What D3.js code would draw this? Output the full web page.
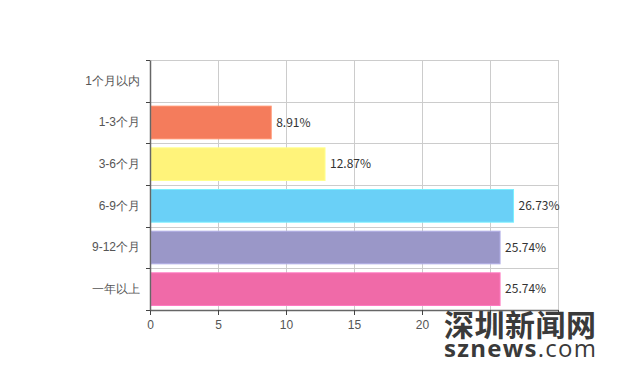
<!DOCTYPE html>
<html>
<head>
<meta charset="utf-8">
<script src="https://cdn.jsdelivr.net/npm/d3@7"></script>
<style>
  body { margin: 0; background: #fff; }
  svg { display: block; font-family: "Noto Sans CJK SC", "Noto Sans", sans-serif; }
</style>
</head>
<body>
<svg id="chart" width="620" height="370"></svg>
<script>
// chart data
var categories = ["1个月以内", "1-3个月", "3-6个月", "6-9个月", "9-12个月", "一年以上"];
var values = [0, 8.91, 12.87, 26.73, 25.74, 25.74];
var colors = ["#c23531", "#f47c5c", "#fff37a", "#6ad0f7", "#9a97c8", "#f06aa8"];
var xTicks = [0, 5, 10, 15, 20, 25, 30];

var svg = d3.select("#chart");
var plotLeft = 150, plotRight = 558, plotTop = 60, plotBottom = 310;

var x = d3.scaleLinear().domain([0, 30]).range([plotLeft, plotRight]);
var y = d3.scaleBand().domain(categories).range([plotTop, plotBottom]);

// grid lines
var grid = svg.append("g").attr("class", "grid");
grid.selectAll("line.v")
    .data(xTicks.slice(1))
    .enter().append("line")
    .attr("x1", function(d){ return Math.round(x(d)) + 0.5; })
    .attr("x2", function(d){ return Math.round(x(d)) + 0.5; })
    .attr("y1", plotTop).attr("y2", plotBottom)
    .attr("stroke", "#ccc");
var bounds = categories.map(function(c){ return y(c); });
grid.selectAll("line.h")
    .data(bounds)
    .enter().append("line")
    .attr("x1", plotLeft).attr("x2", plotRight)
    .attr("y1", function(d){ return Math.round(d) + 0.5; })
    .attr("y2", function(d){ return Math.round(d) + 0.5; })
    .attr("stroke", "#ccc");

// bars (data joined with their category)
var rows = categories.map(function(c, i){ return {cat: c, value: values[i], color: colors[i]}; });

svg.append("g").selectAll("rect")
    .data(rows.filter(function(d){ return d.value > 0; }))
    .enter().append("rect")
    .attr("x", plotLeft + 1)
    .attr("y", function(d){ return y(d.cat) + 4.5; })
    .attr("width", function(d){ return x(d.value) - plotLeft - 1; })
    .attr("height", y.bandwidth() - 9)
    .attr("fill", function(d){ return d.color; })
    .attr("stroke", function(d){ return d3.color(d.color).brighter(0.4); })
    .attr("stroke-width", 1);

// value labels
svg.append("g").selectAll("text")
    .data(rows.filter(function(d){ return d.value > 0; }))
    .enter().append("text")
    .attr("x", function(d){ return x(d.value) + 5; })
    .attr("y", function(d){ return y(d.cat) + y.bandwidth() / 2; })
    .attr("dy", "0.35em")
    .attr("font-size", 12)
    .attr("fill", "#333")
    .text(function(d){ return d.value.toFixed(2) + "%"; });

// x axis
var xAxis = svg.append("g")
    .attr("transform", "translate(0," + plotBottom + ")")
    .call(d3.axisBottom(x).tickValues(xTicks).tickSize(5).tickSizeOuter(0).tickPadding(5));
xAxis.select(".domain").attr("stroke", "#666").attr("stroke-width", 1.5);
xAxis.selectAll(".tick line").attr("stroke", "#444");
xAxis.selectAll("text").attr("font-size", 12).attr("fill", "#555").attr("font-family", null);

// y axis
var yAxis = svg.append("g")
    .attr("transform", "translate(" + plotLeft + ",0)")
    .call(d3.axisLeft(y).tickSize(0).tickPadding(10));
yAxis.select(".domain").attr("stroke", "#666").attr("stroke-width", 1.5);
yAxis.selectAll("text").attr("font-size", 12).attr("fill", "#555").attr("font-family", null);
yAxis.selectAll("line.bound")
    .data(bounds.concat([plotBottom]))
    .enter().append("line")
    .attr("x1", -4).attr("x2", 0)
    .attr("y1", function(d){ return Math.round(d) + 0.5; })
    .attr("y2", function(d){ return Math.round(d) + 0.5; })
    .attr("stroke", "#444");

// watermark, on a whitish patch that hides the last tick labels
var mark = svg.append("g").attr("fill", "#3a3a3a");
mark.append("rect")
    .attr("x", 440).attr("y", 316)
    .attr("width", 162).attr("height", 48)
    .attr("fill", "#fff").attr("fill-opacity", 0.92);
mark.append("text")
    .attr("x", 444).attr("y", 336)
    .attr("font-size", 30)
    .attr("font-weight", "bold")
    .attr("textLength", 152)
    .text("深圳新闻网");
var site = mark.append("text")
    .attr("x", 444).attr("y", 357)
    .attr("font-size", 24)
    .attr("textLength", 152)
    .attr("font-family", "'Open Sans', sans-serif");
site.append("tspan").attr("font-weight", "bold").text("sznews");
site.append("tspan").text(".com");
</script>
</body>
</html>
